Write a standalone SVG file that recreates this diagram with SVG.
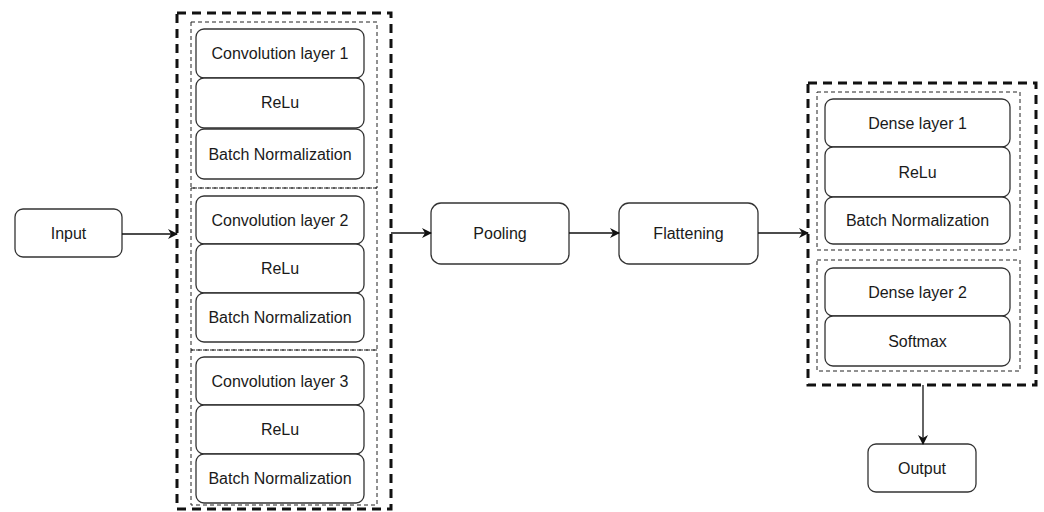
<svg xmlns="http://www.w3.org/2000/svg" width="1044" height="512" viewBox="0 0 1044 512">
<style>
.bg{fill:#ffffff}
.box{fill:#ffffff;stroke:#333333;stroke-width:1.3}
.outer{fill:none;stroke:#111111;stroke-width:3;stroke-dasharray:9 6}
.inner{fill:none;stroke:#222222;stroke-width:1;stroke-dasharray:4 3}
.t{font-family:"Liberation Sans",Arial,sans-serif;font-size:16px;fill:#1a1a1a;text-anchor:middle;dominant-baseline:central}
.conn{stroke:#111111;stroke-width:1.3;fill:none;marker-end:url(#arr)}
</style>
<defs>
<marker id="arr" viewBox="0 0 10 10" refX="9" refY="5" markerWidth="10" markerHeight="10" markerUnits="userSpaceOnUse" orient="auto">
<path d="M0,0 L10,5 L0,10 L3,5 Z" fill="#111111"/>
</marker>
</defs>
<rect class="bg" x="0" y="0" width="1044" height="512"/>

<g id="conv-block">
<rect class="outer" x="177" y="13" width="214" height="496"/>
<rect class="inner" x="191" y="22" width="186" height="166"/>
<rect class="inner" x="191" y="188" width="186" height="162"/>
<rect class="inner" x="191" y="350" width="186" height="155"/>
</g>

<g id="conv1"><rect class="box" x="196" y="29" width="168" height="49" rx="8"/><text class="t" x="280" y="53">Convolution layer 1</text></g>
<g id="relu1"><rect class="box" x="196" y="78" width="168" height="50" rx="8"/><text class="t" x="280" y="102">ReLu</text></g>
<g id="bn1"><rect class="box" x="196" y="129" width="168" height="50" rx="8"/><text class="t" x="280" y="154">Batch Normalization</text></g>

<g id="conv2"><rect class="box" x="196" y="196" width="168" height="48" rx="8"/><text class="t" x="280" y="220">Convolution layer 2</text></g>
<g id="relu2"><rect class="box" x="196" y="244" width="168" height="49" rx="8"/><text class="t" x="280" y="268">ReLu</text></g>
<g id="bn2"><rect class="box" x="196" y="293" width="168" height="49" rx="8"/><text class="t" x="280" y="317">Batch Normalization</text></g>

<g id="conv3"><rect class="box" x="196" y="357" width="168" height="48" rx="8"/><text class="t" x="280" y="381">Convolution layer 3</text></g>
<g id="relu3"><rect class="box" x="196" y="405" width="168" height="49" rx="8"/><text class="t" x="280" y="429">ReLu</text></g>
<g id="bn3"><rect class="box" x="196" y="454" width="168" height="49" rx="8"/><text class="t" x="280" y="478">Batch Normalization</text></g>

<g id="input"><rect class="box" x="15" y="209" width="107" height="48" rx="8"/><text class="t" x="68.5" y="233">Input</text></g>
<g id="pooling"><rect class="box" x="431" y="203" width="138" height="61" rx="10"/><text class="t" x="500" y="233.5">Pooling</text></g>
<g id="flattening"><rect class="box" x="619" y="203" width="139" height="61" rx="10"/><text class="t" x="688.5" y="233.5">Flattening</text></g>

<g id="dense-block">
<rect class="outer" x="808" y="83" width="228" height="302"/>
<rect class="inner" x="817" y="92" width="203" height="158"/>
<rect class="inner" x="817" y="260" width="203" height="111"/>
</g>

<g id="dense1"><rect class="box" x="825" y="99" width="185" height="48" rx="8"/><text class="t" x="917.5" y="123">Dense layer 1</text></g>
<g id="relu4"><rect class="box" x="825" y="147" width="185" height="50" rx="8"/><text class="t" x="917.5" y="172">ReLu</text></g>
<g id="bn4"><rect class="box" x="825" y="197" width="185" height="47" rx="8"/><text class="t" x="917.5" y="220.5">Batch Normalization</text></g>
<g id="dense2"><rect class="box" x="825" y="268" width="185" height="48" rx="8"/><text class="t" x="917.5" y="292">Dense layer 2</text></g>
<g id="softmax"><rect class="box" x="825" y="316" width="185" height="50" rx="8"/><text class="t" x="917.5" y="341">Softmax</text></g>

<g id="output"><rect class="box" x="868" y="444" width="108" height="48" rx="8"/><text class="t" x="922" y="468">Output</text></g>

<g id="connectors">
<line class="conn" x1="122" y1="234" x2="177" y2="234"/>
<line class="conn" x1="391" y1="233" x2="431" y2="233"/>
<line class="conn" x1="569" y1="233" x2="619" y2="233"/>
<line class="conn" x1="758" y1="233" x2="808" y2="233"/>
<line class="conn" x1="923" y1="385" x2="923" y2="444"/>
</g>
</svg>
